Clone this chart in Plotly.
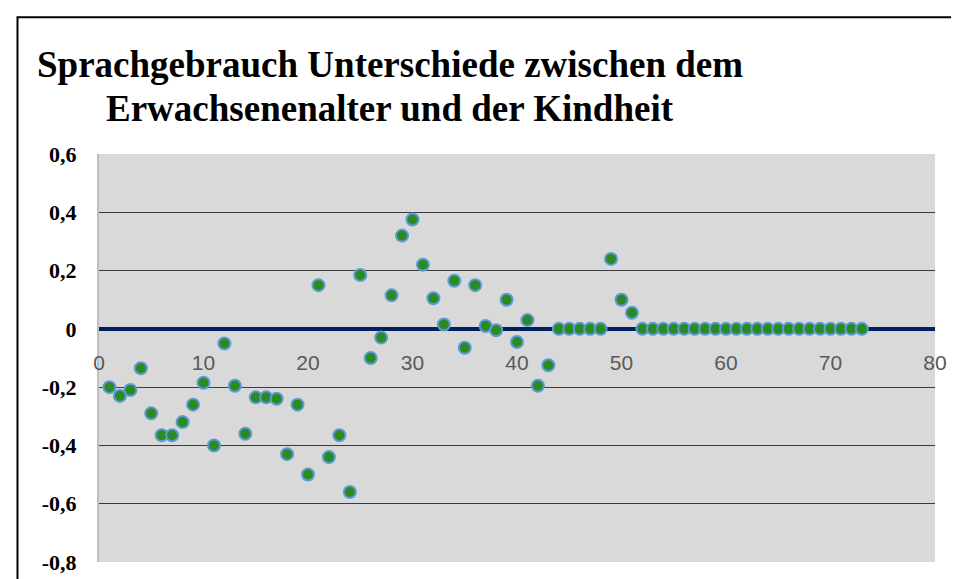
import plotly.graph_objects as go

# Values (one point per item, x = item number)
items = [1, 2, 3, 4, 5, 6, 7, 8, 9, 10, 11, 12, 13, 14, 15, 16, 17, 18, 19, 20,
         21, 22, 23, 24, 25, 26, 27, 28, 29, 30, 31, 32, 33, 34, 35, 36, 37, 38, 39, 40,
         41, 42, 43, 44, 45, 46, 47, 48, 49, 50, 51, 52, 53, 54, 55, 56, 57, 58, 59, 60,
         61, 62, 63, 64, 65, 66, 67, 68, 69, 70, 71, 72, 73]
differences = [-0.20, -0.23, -0.21, -0.135, -0.29, -0.365, -0.365, -0.32, -0.26, -0.185,
               -0.40, -0.05, -0.195, -0.36, -0.235, -0.235, -0.24, -0.43, -0.26, -0.50,
               0.15, -0.44, -0.365, -0.56, 0.185, -0.10, -0.03, 0.115, 0.32, 0.375,
               0.22, 0.105, 0.015, 0.165, -0.065, 0.15, 0.01, -0.005, 0.10, -0.045,
               0.03, -0.195, -0.125, 0, 0, 0, 0, 0, 0.24, 0.10,
               0.055, 0, 0, 0, 0, 0, 0, 0, 0, 0,
               0, 0, 0, 0, 0, 0, 0, 0, 0, 0,
               0, 0, 0]

x_ticks = [0, 10, 20, 30, 40, 50, 60, 70, 80]
y_ticks = [0.6, 0.4, 0.2, 0, -0.2, -0.4, -0.6, -0.8]
y_labels = ["0,6", "0,4", "0,2", "0", "-0,2", "-0,4", "-0,6", "-0,8"]

title_lines = ["Sprachgebrauch Unterschiede zwischen dem",
               "Erwachsenenalter und der Kindheit"]
SERIF = "Liberation Serif"

fig = go.Figure(go.Scatter(
    x=items, y=differences, mode="markers",
    marker=dict(size=12, color="#2b8a22", line=dict(color="#5b9bd5", width=2)),
    hoverinfo="x+y", showlegend=False,
))

fig.update_layout(
    width=959, height=579,
    margin=dict(l=91, r=32, t=146, b=25),
    paper_bgcolor="white", plot_bgcolor="#d9d9d9",
    xaxis=dict(range=[0, 80], tickvals=x_ticks, showgrid=False, zeroline=False,
               anchor="free", position=0.8 / 1.4, showline=False, ticks="",
               ticklabelstandoff=19,
               tickfont=dict(family="Liberation Sans", size=21, color="#595959")),
    yaxis=dict(range=[-0.8, 0.6], tickvals=y_ticks, ticktext=y_labels,
               showgrid=True, gridcolor="#3c3c3c", gridwidth=1.3,
               zeroline=True, zerolinecolor="#002060", zerolinewidth=4,
               showline=True, linecolor="#bfbfbf", linewidth=2, ticks="",
               ticklabelstandoff=16,
               tickfont=dict(family=SERIF, size=22, color="black", weight="bold")),
)

# two-line centred chart title
for line, ypos in zip(title_lines, [1.219, 1.111]):
    fig.add_annotation(text=line, xref="paper", yref="paper", x=0.348, y=ypos,
                       xanchor="center", yanchor="middle", showarrow=False,
                       font=dict(family=SERIF, size=37, color="black", weight="bold"))

# outer chart frame, like the Excel chart border
fig.add_shape(type="rect", xref="paper", yref="paper",
              x0=-0.0975, x1=1.031, y0=-0.12, y1=1.335,
              line=dict(color="black", width=2), fillcolor="rgba(0,0,0,0)")

fig.write_html("out.html")
